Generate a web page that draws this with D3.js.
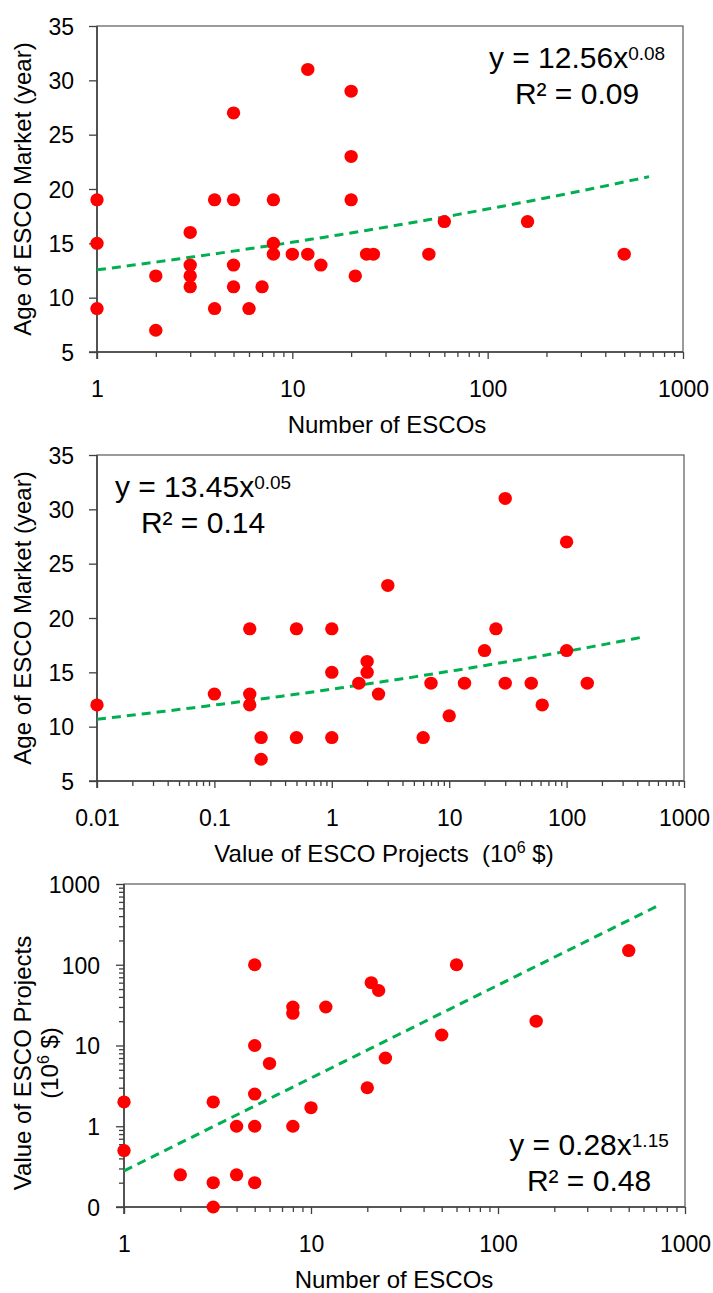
<!DOCTYPE html>
<html><head><meta charset="utf-8">
<script src="https://cdn.jsdelivr.net/npm/d3@7"></script>
<style>
body{margin:0;background:#fff}
text{font-family:"Liberation Sans",Arial,sans-serif;fill:#000}
</style>
</head><body>
<svg id="c" width="713" height="1293"></svg>
<script>
// ---------- DATA ----------
// Panel 1: Number of ESCOs vs Age of ESCO market
const p1Escos = [1,4,5,8,20,12,20,5,20, 1,1,2,2,3,3,3,3,4,5,5,6,7,8,8,10,12,14,21,24,26,50,60,160,500];
const p1Age   = [19,19,19,19,19,31,29,27,23, 15,9,12,7,16,13,12,11,9,13,11,9,11,15,14,14,14,13,12,14,14,14,17,17,14];
const p1Trend = [12.56, 0.08];      // y = a x^b
const p1TrendRange = [1, 670];
const p1Eq = ["y = 12.56x", "0.08", "R² = 0.09"];

// Panel 2: Value of ESCO projects vs Age of ESCO market
const p2Value = [30,100,3,0.2,0.5,1,25, 20,100,2,2,1,1.7,2.5,0.1,0.2,0.2,0.01,0.25,0.25,0.5,1,6,10,7,13.5,30,50,62,150];
const p2Age   = [31,27,23,19,19,19,19, 17,17,16,15,15,14,13,13,13,12,12,9,7,9,9,9,11,14,14,14,14,12,14];
const p2Trend = [13.45, 0.05];
const p2TrendRange = [0.01, 420];
const p2Eq = ["y = 13.45x", "0.05", "R² = 0.14"];

// Panel 3: Number of ESCOs vs Value of ESCO projects
const p3Escos = [5,60,500,21,23,8,8,12,5,6,25,50,160, 1,1,2,3,3,3,4,4,5,5,5,8,10,20];
const p3Value = [100,100,150,60,48,30,25,30,10,6,7,13.5,20, 2,0.5,0.25,2,0.2,0.1,0.25,1,1,0.2,2.5,1,1.7,3];
const p3Trend = [0.28, 1.15];
const p3TrendRange = [1, 700];
const p3Eq = ["y = 0.28x", "1.15", "R² = 0.48"];

// tick values / labels
const ageTicks = [5,10,15,20,25,30,35];
const escoTicks = [1,10,100,1000];
const escoTickLabels = ["1","10","100","1000"];
const valueTicksX = [0.01,0.1,1,10,100,1000];
const valueTickLabelsX = ["0.01","0.1","1","10","100","1000"];
const valueTicksY = [0.1,1,10,100,1000];
const valueTickLabelsY = ["0","1","10","100","1000"];

// ---------- DRAW ----------
const svg = d3.select("#c");
const RED = "#FF0000", GREEN = "#00B050", AX = "#404040";

function minorLog(domain){
  const out=[];
  for(let d=domain[0]; d<domain[1]; d*=10){
    for(let k=2;k<=9;k++) out.push(+(d*k).toPrecision(6));
  }
  return out;
}

function panel(o){
  const g = svg.append("g");
  const x = d3.scaleLog().domain(o.xDomain).range([o.left,o.right]);
  const y = (o.yLog ? d3.scaleLog() : d3.scaleLinear()).domain(o.yDomain).range([o.bottom,o.top]);

  // frame
  g.append("rect").attr("x",o.left).attr("y",o.top)
    .attr("width",o.right-o.left).attr("height",o.bottom-o.top)
    .attr("fill","none").attr("stroke","#595959").attr("stroke-width",1.2);

  // x minor ticks
  const xMinor = g.append("g").attr("transform",`translate(0,${o.bottom})`)
    .call(d3.axisBottom(x).tickValues(minorLog(o.xDomain)).tickSize(5).tickFormat(""));
  xMinor.select(".domain").remove();
  xMinor.selectAll("line").attr("stroke",AX).attr("stroke-width",1.3);
  // x major ticks with labels
  const xMajor = g.append("g").attr("transform",`translate(0,${o.bottom})`)
    .call(d3.axisBottom(x).tickValues(o.xTicks).tickSize(7).tickPadding(0)
      .tickFormat((d,i)=>o.xTickLabels[i]));
  xMajor.select(".domain").remove();
  xMajor.selectAll("line").attr("stroke",AX).attr("stroke-width",1.3);
  xMajor.selectAll("text").attr("font-size",23).attr("fill","#000")
    .attr("y",44.5).attr("dy",0).attr("font-family","Liberation Sans, Arial, sans-serif");

  // y minor ticks (log)
  if(o.yLog){
    const yMinor = g.append("g").attr("transform",`translate(${o.left},0)`)
      .call(d3.axisLeft(y).tickValues(minorLog(o.yDomain)).tickSize(5).tickFormat(""));
    yMinor.select(".domain").remove();
    yMinor.selectAll("line").attr("stroke",AX).attr("stroke-width",1.3);
  }
  const yMajor = g.append("g").attr("transform",`translate(${o.left},0)`)
    .call(d3.axisLeft(y).tickValues(o.yTicks).tickSize(8).tickPadding(0)
      .tickFormat((d,i)=>o.yTickLabels[i]));
  yMajor.select(".domain").remove();
  yMajor.selectAll("line").attr("stroke",AX).attr("stroke-width",1.3);
  yMajor.selectAll("text").attr("font-size",23).attr("fill","#000")
    .attr("x",-o.yLabelGap).attr("dy","0.36em").attr("font-family","Liberation Sans, Arial, sans-serif");

  // axis lines
  g.append("line").attr("x1",o.left).attr("x2",o.left).attr("y1",o.top).attr("y2",o.bottom+7)
    .attr("stroke",AX).attr("stroke-width",1.6);
  g.append("line").attr("x1",o.left-8).attr("x2",o.right).attr("y1",o.bottom).attr("y2",o.bottom)
    .attr("stroke",AX).attr("stroke-width",1.6);

  // trend line
  const [a,b] = o.trend, [lo,hi] = o.trendRange;
  const tp = d3.range(0,81).map(i=>{const xv=lo*Math.pow(hi/lo,i/80); return [xv,a*Math.pow(xv,b)];});
  g.append("path").datum(tp)
    .attr("d",d3.line().x(d=>x(d[0])).y(d=>y(d[1])))
    .attr("fill","none").attr("stroke",GREEN).attr("stroke-width",3)
    .attr("stroke-dasharray","9,6");

  // points
  g.append("g").selectAll("ellipse").data(o.xs).join("ellipse")
    .attr("cx",(d)=>x(d)).attr("cy",(d,i)=>y(o.ys[i]))
    .attr("rx",6.7).attr("ry",6.5).attr("fill",RED);

  // equation
  const e1 = g.append("text").attr("x",o.eqX).attr("y",o.eqY).attr("text-anchor","middle").attr("font-size",30);
  e1.append("tspan").text(o.eq[0]);
  e1.append("tspan").attr("font-size",19).attr("dy",-8.5).text(o.eq[1]);
  g.append("text").attr("x",o.eqX).attr("y",o.eqY+36).attr("text-anchor","middle").attr("font-size",30).text(o.eq[2]);

  // x title
  const xt = g.append("text").attr("x",o.xTitleX).attr("y",o.bottom+81)
    .attr("text-anchor","middle").attr("font-size",24).style("white-space","pre");
  o.xTitle.forEach(p=>{const t=xt.append("tspan").text(p[0]); if(p[1]){t.attr("font-size",16).attr("dy",-9);} else if(p[2]){t.attr("dy",9);} });

  // y title
  o.yTitle.forEach((line,li)=>{
    const yt = g.append("text")
      .attr("transform",`translate(${line.bx},${o.yTitleY}) rotate(-90)`)
      .attr("text-anchor","middle").attr("font-size",24).style("white-space","pre");
    line.parts.forEach(p=>{const t=yt.append("tspan").text(p[0]); if(p[1]){t.attr("font-size",16).attr("dy",-9);} else if(p[2]){t.attr("dy",9);} });
  });
}

panel({
  left:97, right:683, top:26, bottom:352,
  xDomain:[1,1000], yDomain:[5,35], yLog:false,
  xTicks:escoTicks, xTickLabels:escoTickLabels,
  yTicks:ageTicks, yTickLabels:ageTicks.map(String), yLabelGap:23,
  xs:p1Escos, ys:p1Age, trend:p1Trend, trendRange:p1TrendRange,
  eq:p1Eq, eqX:577, eqY:68,
  xTitle:[["Number of ESCOs"]], xTitleX:387,
  yTitle:[{bx:31, parts:[["Age of ESCO Market (year)"]]}], yTitleY:189
});

panel({
  left:97, right:684, top:455, bottom:781,
  xDomain:[0.01,1000], yDomain:[5,35], yLog:false,
  xTicks:valueTicksX, xTickLabels:valueTickLabelsX,
  yTicks:ageTicks, yTickLabels:ageTicks.map(String), yLabelGap:23,
  xs:p2Value, ys:p2Age, trend:p2Trend, trendRange:p2TrendRange,
  eq:p2Eq, eqX:203, eqY:497,
  xTitle:[["Value of ESCO Projects  (10"],["6",true],[" $)",false,true]], xTitleX:384,
  yTitle:[{bx:31, parts:[["Age of ESCO Market (year)"]]}], yTitleY:618
});

panel({
  left:124, right:685, top:884, bottom:1207,
  xDomain:[1,1000], yDomain:[0.1,1000], yLog:true,
  xTicks:escoTicks, xTickLabels:escoTickLabels,
  yTicks:valueTicksY, yTickLabels:valueTickLabelsY, yLabelGap:24,
  xs:p3Escos, ys:p3Value, trend:p3Trend, trendRange:p3TrendRange,
  eq:p3Eq, eqX:589, eqY:1155,
  xTitle:[["Number of ESCOs"]], xTitleX:394,
  yTitle:[{bx:31, parts:[["Value of ESCO Projects"]]},
          {bx:58, parts:[["(10"],["6",true],[" $)",false,true]]}], yTitleY:1063
});
</script>
</body></html>
